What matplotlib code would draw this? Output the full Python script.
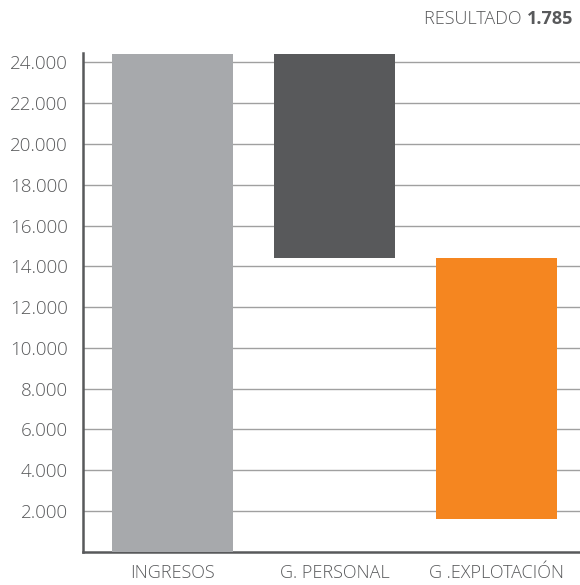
import matplotlib
matplotlib.use("Agg")
import matplotlib.pyplot as plt
from matplotlib.ticker import FuncFormatter

# datos de la cascada
categorias = ["INGRESOS", "G. PERSONAL", "G .EXPLOTACIÓN"]
inicio = [0, 14390, 1600]
fin = [24420, 24420, 14390]
colores = ["#a7a9ac", "#58595b", "#f58620"]
yticks = list(range(2000, 24001, 2000))
resultado = "1.785"

plt.rcParams["font.family"] = ["Open Sans", "DejaVu Sans"]
gris_texto = "#58595b"

fig = plt.figure(figsize=(5.8, 5.85), dpi=100)
ax = fig.add_axes([83 / 580, 33.3 / 585, 1 - 83 / 580, (551.7 - 53.3) / 585])

alturas = [f - i for i, f in zip(inicio, fin)]
ax.bar(range(len(categorias)), alturas, bottom=inicio, width=0.747,
       color=colores, zorder=3)

ax.set_xlim(-0.5525, 2.515)
ax.set_ylim(0, 24450)
ax.set_yticks(yticks)
ax.yaxis.set_major_formatter(FuncFormatter(lambda v, p: f"{int(v):,}".replace(",", ".")))
ax.set_xticks(range(len(categorias)))
ax.set_xticklabels(categorias)
ax.grid(axis="y", color="#a0a0a0", linewidth=1, zorder=0)
ax.tick_params(length=0, labelcolor=gris_texto)
ax.tick_params(axis="y", pad=11, labelsize=13.5)
ax.tick_params(axis="x", pad=9, labelsize=13)
for lbl in ax.get_xticklabels() + ax.get_yticklabels():
    lbl.set_fontweight("light")

for s in ["top", "right"]:
    ax.spines[s].set_visible(False)
for s in ["left", "bottom"]:
    ax.spines[s].set_color(gris_texto)
    ax.spines[s].set_linewidth(1.8)

# título: "RESULTADO" normal + cifra en negrita, alineado a la derecha
t = fig.text(573 / 580, 1 - 18.5 / 585, resultado, ha="right", va="center",
             fontsize=13, fontweight="bold", color=gris_texto)
fig.canvas.draw()
ax.annotate("RESULTADO ", xy=(0, 0.5), xycoords=t, ha="right", va="center",
            fontsize=13, fontweight="light", color=gris_texto)

fig.savefig("out.png", dpi=100)
